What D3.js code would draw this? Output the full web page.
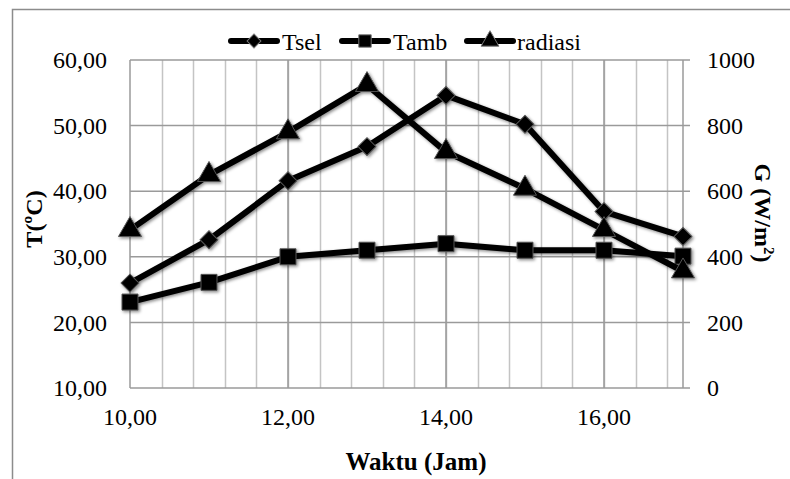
<!DOCTYPE html>
<html>
<head>
<meta charset="utf-8">
<script src="https://cdn.jsdelivr.net/npm/d3@7"></script>
<style>
  svg text, svg tspan { font-family: "Liberation Serif", "Times New Roman", serif !important; }
</style>
</head>
<body style="margin:0">
<svg id="chart" width="790" height="479"></svg>
<script>
// data
var jam = [10, 11, 12, 13, 14, 15, 16, 17];
var tsel = [26.0, 32.6, 41.6, 46.8, 54.6, 50.2, 36.9, 33.1];
var tamb = [23.1, 26.1, 30.0, 31.0, 32.0, 31.0, 31.0, 30.1];
var radiasi = [482, 650, 780, 924, 720, 608, 482, 356];
var xTicks = [10, 12, 14, 16];
var yTicks = [10, 20, 30, 40, 50, 60];
var gTicks = [0, 200, 400, 600, 800, 1000];

var FONT = '"Liberation Serif", "Times New Roman", serif';
var svg = d3.select('#chart').style('font-family', FONT, 'important');
var plotL = 130, plotR = 683, plotT = 60, plotB = 388;

var x = d3.scaleLinear().domain([10, 17]).range([plotL, plotR]);
var y = d3.scaleLinear().domain([10, 60]).range([plotB, plotT]);
var g = d3.scaleLinear().domain([0, 1000]).range([plotB, plotT]);
var fmt = function(d) { return d3.format('.2f')(d).replace('.', ','); };

// helper so every text gets the serif face
function txt(sel, size, bold) {
  return sel.style('font-family', FONT, 'important')
    .style('font-size', size + 'px')
    .style('font-weight', bold ? 'bold' : 'normal')
    .attr('fill', '#000');
}

// shadow filter like the office chart
var defs = svg.append('defs');
var f = defs.append('filter').attr('id', 'shadow')
  .attr('x', '-20%').attr('y', '-20%').attr('width', '140%').attr('height', '140%');
f.append('feDropShadow').attr('dx', 1.5).attr('dy', 1.5)
  .attr('stdDeviation', 1.5).attr('flood-color', '#000').attr('flood-opacity', 0.45);

// outer frame
svg.append('path').attr('d', 'M12.5,479 L12.5,9.5 L790,9.5')
  .attr('fill', 'none').attr('stroke', '#8c8c8c').attr('stroke-width', 1.5);

// minor vertical grid every 0.4 h
var minor = d3.range(10.4, 16.9, 0.4);
svg.append('g').selectAll('line').data(minor).enter().append('line')
  .attr('x1', function(d) { return Math.round(x(d)) + 0.5; })
  .attr('x2', function(d) { return Math.round(x(d)) + 0.5; })
  .attr('y1', plotT).attr('y2', plotB)
  .attr('stroke', '#c4c4c4').attr('stroke-width', 1.5);

// major grid
svg.append('g').selectAll('line').data(xTicks.slice(1)).enter().append('line')
  .attr('x1', function(d) { return x(d); }).attr('x2', function(d) { return x(d); })
  .attr('y1', plotT).attr('y2', plotB)
  .attr('stroke', '#9a9a9a').attr('stroke-width', 1.5);
svg.append('g').selectAll('line').data(yTicks).enter().append('line')
  .attr('x1', plotL).attr('x2', plotR + 7)
  .attr('y1', function(d) { return y(d); }).attr('y2', function(d) { return y(d); })
  .attr('stroke', '#9a9a9a').attr('stroke-width', 1.5);

// axis lines
svg.append('line').attr('x1', plotL).attr('x2', plotL).attr('y1', plotT).attr('y2', plotB)
  .attr('stroke', '#9a9a9a').attr('stroke-width', 1.5);
svg.append('line').attr('x1', plotR).attr('x2', plotR).attr('y1', plotT).attr('y2', plotB)
  .attr('stroke', '#9a9a9a').attr('stroke-width', 1.5);

// tick labels
txt(svg.append('g').selectAll('text').data(yTicks).enter().append('text')
  .attr('x', 107).attr('y', function(d) { return y(d); }).attr('dy', '0.34em')
  .attr('text-anchor', 'end'), 24).text(fmt);
txt(svg.append('g').selectAll('text').data(gTicks).enter().append('text')
  .attr('x', 707).attr('y', function(d) { return g(d); }).attr('dy', '0.34em'), 24)
  .text(function(d) { return d; });
txt(svg.append('g').selectAll('text').data(xTicks).enter().append('text')
  .attr('x', function(d) { return x(d); }).attr('y', 425)
  .attr('text-anchor', 'middle'), 24).text(fmt);

// axis titles
txt(svg.append('text').attr('transform', 'translate(42,219) rotate(-90)')
  .attr('text-anchor', 'middle'), 24, true).text('T(ºC)');
var gt = txt(svg.append('text').attr('transform', 'translate(755,213) rotate(90)')
  .attr('text-anchor', 'middle'), 24, true);
gt.append('tspan').text('G (W/m');
gt.append('tspan').attr('dy', -9).style('font-size', '15px').text('2');
gt.append('tspan').attr('dy', 9).text(')');
txt(svg.append('text').attr('x', 416).attr('y', 470).attr('text-anchor', 'middle'), 25, true)
  .text('Waktu (Jam)');

// series: diamond = rotated square
var series = [
  { name: 'Tsel', vals: tsel, scale: y, shape: d3.symbolSquare, rot: 45, size: 160, lx: 231, tx: 282 },
  { name: 'Tamb', vals: tamb, scale: y, shape: d3.symbolSquare, rot: 0, size: 256, lx: 342, tx: 393 },
  { name: 'radiasi', vals: radiasi, scale: g, shape: d3.symbolTriangle, rot: 0, size: 230, lx: 467, tx: 517 }
];

series.forEach(function(s) {
  var line = d3.line()
    .x(function(d, i) { return x(jam[i]); })
    .y(function(d) { return s.scale(d); });
  var grp = svg.append('g').attr('filter', 'url(#shadow)');
  grp.append('path').datum(s.vals).attr('d', line)
    .attr('fill', 'none').attr('stroke', '#000').attr('stroke-width', 6)
    .attr('stroke-linejoin', 'round');
  grp.selectAll('path.m').data(s.vals).enter().append('path').attr('class', 'm')
    .attr('transform', function(d, i) {
      return 'translate(' + x(jam[i]) + ',' + s.scale(d) + ') rotate(' + s.rot + ')';
    })
    .attr('d', d3.symbol().type(s.shape).size(s.size))
    .attr('fill', '#000').attr('stroke', '#555').attr('stroke-width', 1);

  // legend
  var lg = svg.append('g');
  lg.append('line').attr('x1', s.lx).attr('x2', s.lx + 46).attr('y1', 41).attr('y2', 41)
    .attr('stroke', '#000').attr('stroke-width', 6).attr('stroke-linecap', 'round');
  lg.append('path').attr('transform', 'translate(' + (s.lx + 23) + ',41) rotate(' + s.rot + ')')
    .attr('d', d3.symbol().type(s.shape).size(s.size * 0.6))
    .attr('fill', '#000').attr('stroke', '#777').attr('stroke-width', 1);
  txt(lg.append('text').attr('x', s.tx).attr('y', 50), 24).text(s.name);
});
</script>
</body>
</html>
